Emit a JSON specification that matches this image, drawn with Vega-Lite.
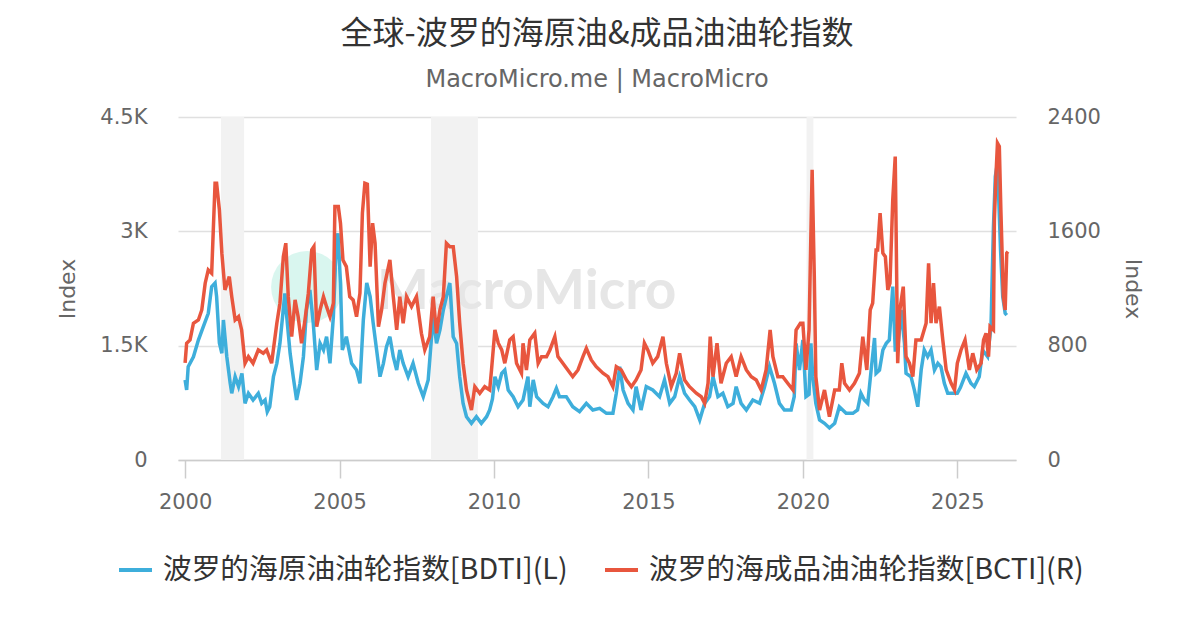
{
  "$schema": "https://vega.github.io/schema/vega-lite/v6.json",
  "width": 838,
  "height": 343,
  "autosize": "none",
  "padding": {"left": 178, "top": 117, "right": 185, "bottom": 170},
  "background": "white",
  "title": {
    "text": "全球-波罗的海原油&成品油油轮指数",
    "subtitle": "MacroMicro.me | MacroMicro",
    "font": "Noto Sans CJK SC",
    "fontSize": 32,
    "fontWeight": "normal",
    "color": "#333333",
    "subtitleFont": "DejaVu Sans",
    "subtitleFontSize": 24,
    "subtitleColor": "#666666",
    "subtitlePadding": 17,
    "offset": 13,
    "anchor": "middle"
  },
  "datasets": {
    "bands": [
      {"a": 2001.16, "b": 2001.91},
      {"a": 2007.96, "b": 2009.48},
      {"a": 2020.12, "b": 2020.34}
    ],
    "series": [
      {"t": 2000.0, "s": "BDTI", "v": 1050}, {"t": 2000.05, "s": "BDTI", "v": 920}, {"t": 2000.1, "s": "BDTI", "v": 1224},
      {"t": 2000.27, "s": "BDTI", "v": 1355}, {"t": 2000.43, "s": "BDTI", "v": 1574}, {"t": 2000.59, "s": "BDTI", "v": 1749},
      {"t": 2000.75, "s": "BDTI", "v": 1925}, {"t": 2000.86, "s": "BDTI", "v": 2274}, {"t": 2000.97, "s": "BDTI", "v": 2322},
      {"t": 2001.02, "s": "BDTI", "v": 2143}, {"t": 2001.11, "s": "BDTI", "v": 1535}, {"t": 2001.19, "s": "BDTI", "v": 1400},
      {"t": 2001.24, "s": "BDTI", "v": 1837}, {"t": 2001.35, "s": "BDTI", "v": 1355}, {"t": 2001.46, "s": "BDTI", "v": 1006},
      {"t": 2001.51, "s": "BDTI", "v": 875}, {"t": 2001.62, "s": "BDTI", "v": 1093}, {"t": 2001.73, "s": "BDTI", "v": 962},
      {"t": 2001.84, "s": "BDTI", "v": 1137}, {"t": 2001.94, "s": "BDTI", "v": 743}, {"t": 2002.05, "s": "BDTI", "v": 875},
      {"t": 2002.2, "s": "BDTI", "v": 787}, {"t": 2002.37, "s": "BDTI", "v": 875}, {"t": 2002.48, "s": "BDTI", "v": 743},
      {"t": 2002.59, "s": "BDTI", "v": 787}, {"t": 2002.66, "s": "BDTI", "v": 634}, {"t": 2002.74, "s": "BDTI", "v": 699},
      {"t": 2002.86, "s": "BDTI", "v": 1093}, {"t": 2002.97, "s": "BDTI", "v": 1268}, {"t": 2003.07, "s": "BDTI", "v": 1530},
      {"t": 2003.23, "s": "BDTI", "v": 2186}, {"t": 2003.29, "s": "BDTI", "v": 1880}, {"t": 2003.4, "s": "BDTI", "v": 1400},
      {"t": 2003.5, "s": "BDTI", "v": 1093}, {"t": 2003.61, "s": "BDTI", "v": 787}, {"t": 2003.72, "s": "BDTI", "v": 1006},
      {"t": 2003.83, "s": "BDTI", "v": 1355}, {"t": 2003.93, "s": "BDTI", "v": 1968}, {"t": 2004.04, "s": "BDTI", "v": 2230},
      {"t": 2004.15, "s": "BDTI", "v": 1793}, {"t": 2004.26, "s": "BDTI", "v": 1180}, {"t": 2004.37, "s": "BDTI", "v": 1530},
      {"t": 2004.48, "s": "BDTI", "v": 1443}, {"t": 2004.58, "s": "BDTI", "v": 1618}, {"t": 2004.69, "s": "BDTI", "v": 1268},
      {"t": 2004.8, "s": "BDTI", "v": 1880}, {"t": 2004.9, "s": "BDTI", "v": 2886}, {"t": 2004.95, "s": "BDTI", "v": 2974},
      {"t": 2005.03, "s": "BDTI", "v": 2322}, {"t": 2005.09, "s": "BDTI", "v": 1443}, {"t": 2005.22, "s": "BDTI", "v": 1618},
      {"t": 2005.39, "s": "BDTI", "v": 1268}, {"t": 2005.55, "s": "BDTI", "v": 1180}, {"t": 2005.66, "s": "BDTI", "v": 1006},
      {"t": 2005.77, "s": "BDTI", "v": 1837}, {"t": 2005.88, "s": "BDTI", "v": 2322}, {"t": 2005.99, "s": "BDTI", "v": 2143},
      {"t": 2006.09, "s": "BDTI", "v": 1793}, {"t": 2006.2, "s": "BDTI", "v": 1443}, {"t": 2006.31, "s": "BDTI", "v": 1093},
      {"t": 2006.42, "s": "BDTI", "v": 1268}, {"t": 2006.52, "s": "BDTI", "v": 1487}, {"t": 2006.63, "s": "BDTI", "v": 1618},
      {"t": 2006.74, "s": "BDTI", "v": 1355}, {"t": 2006.85, "s": "BDTI", "v": 1180}, {"t": 2006.95, "s": "BDTI", "v": 1443},
      {"t": 2007.06, "s": "BDTI", "v": 1268}, {"t": 2007.22, "s": "BDTI", "v": 1093}, {"t": 2007.38, "s": "BDTI", "v": 1268},
      {"t": 2007.55, "s": "BDTI", "v": 1006}, {"t": 2007.71, "s": "BDTI", "v": 831}, {"t": 2007.87, "s": "BDTI", "v": 1050},
      {"t": 2008.03, "s": "BDTI", "v": 1880}, {"t": 2008.14, "s": "BDTI", "v": 1530}, {"t": 2008.25, "s": "BDTI", "v": 1706},
      {"t": 2008.36, "s": "BDTI", "v": 1968}, {"t": 2008.46, "s": "BDTI", "v": 2143}, {"t": 2008.57, "s": "BDTI", "v": 2322},
      {"t": 2008.68, "s": "BDTI", "v": 1618}, {"t": 2008.79, "s": "BDTI", "v": 1530}, {"t": 2008.89, "s": "BDTI", "v": 1093},
      {"t": 2009.0, "s": "BDTI", "v": 743}, {"t": 2009.11, "s": "BDTI", "v": 568}, {"t": 2009.27, "s": "BDTI", "v": 481},
      {"t": 2009.43, "s": "BDTI", "v": 568}, {"t": 2009.59, "s": "BDTI", "v": 481}, {"t": 2009.76, "s": "BDTI", "v": 568},
      {"t": 2009.86, "s": "BDTI", "v": 656}, {"t": 2009.95, "s": "BDTI", "v": 800}, {"t": 2010.03, "s": "BDTI", "v": 1093},
      {"t": 2010.14, "s": "BDTI", "v": 962}, {"t": 2010.25, "s": "BDTI", "v": 1137}, {"t": 2010.35, "s": "BDTI", "v": 1180},
      {"t": 2010.46, "s": "BDTI", "v": 918}, {"t": 2010.62, "s": "BDTI", "v": 831}, {"t": 2010.78, "s": "BDTI", "v": 699},
      {"t": 2010.94, "s": "BDTI", "v": 787}, {"t": 2011.1, "s": "BDTI", "v": 1093}, {"t": 2011.16, "s": "BDTI", "v": 699},
      {"t": 2011.27, "s": "BDTI", "v": 1050}, {"t": 2011.38, "s": "BDTI", "v": 831}, {"t": 2011.59, "s": "BDTI", "v": 743},
      {"t": 2011.75, "s": "BDTI", "v": 699}, {"t": 2011.91, "s": "BDTI", "v": 831}, {"t": 2012.02, "s": "BDTI", "v": 940},
      {"t": 2012.12, "s": "BDTI", "v": 831}, {"t": 2012.34, "s": "BDTI", "v": 831}, {"t": 2012.55, "s": "BDTI", "v": 699},
      {"t": 2012.77, "s": "BDTI", "v": 634}, {"t": 2012.99, "s": "BDTI", "v": 743}, {"t": 2013.2, "s": "BDTI", "v": 656},
      {"t": 2013.42, "s": "BDTI", "v": 678}, {"t": 2013.64, "s": "BDTI", "v": 612}, {"t": 2013.85, "s": "BDTI", "v": 612},
      {"t": 2013.96, "s": "BDTI", "v": 875}, {"t": 2014.07, "s": "BDTI", "v": 1224}, {"t": 2014.18, "s": "BDTI", "v": 918},
      {"t": 2014.34, "s": "BDTI", "v": 743}, {"t": 2014.5, "s": "BDTI", "v": 656}, {"t": 2014.6, "s": "BDTI", "v": 962},
      {"t": 2014.76, "s": "BDTI", "v": 656}, {"t": 2014.93, "s": "BDTI", "v": 962}, {"t": 2015.14, "s": "BDTI", "v": 918},
      {"t": 2015.36, "s": "BDTI", "v": 831}, {"t": 2015.52, "s": "BDTI", "v": 1050}, {"t": 2015.69, "s": "BDTI", "v": 743},
      {"t": 2015.85, "s": "BDTI", "v": 831}, {"t": 2016.01, "s": "BDTI", "v": 1093}, {"t": 2016.17, "s": "BDTI", "v": 875},
      {"t": 2016.33, "s": "BDTI", "v": 787}, {"t": 2016.5, "s": "BDTI", "v": 699}, {"t": 2016.66, "s": "BDTI", "v": 525},
      {"t": 2016.82, "s": "BDTI", "v": 743}, {"t": 2016.98, "s": "BDTI", "v": 831}, {"t": 2017.09, "s": "BDTI", "v": 1093},
      {"t": 2017.25, "s": "BDTI", "v": 831}, {"t": 2017.41, "s": "BDTI", "v": 875}, {"t": 2017.57, "s": "BDTI", "v": 699},
      {"t": 2017.74, "s": "BDTI", "v": 743}, {"t": 2017.84, "s": "BDTI", "v": 962}, {"t": 2018.0, "s": "BDTI", "v": 743},
      {"t": 2018.17, "s": "BDTI", "v": 656}, {"t": 2018.38, "s": "BDTI", "v": 787}, {"t": 2018.6, "s": "BDTI", "v": 743},
      {"t": 2018.76, "s": "BDTI", "v": 962}, {"t": 2018.92, "s": "BDTI", "v": 1224}, {"t": 2019.08, "s": "BDTI", "v": 1006},
      {"t": 2019.24, "s": "BDTI", "v": 743}, {"t": 2019.4, "s": "BDTI", "v": 656}, {"t": 2019.62, "s": "BDTI", "v": 656},
      {"t": 2019.72, "s": "BDTI", "v": 831}, {"t": 2019.78, "s": "BDTI", "v": 1530}, {"t": 2019.89, "s": "BDTI", "v": 1180},
      {"t": 2020.0, "s": "BDTI", "v": 1574}, {"t": 2020.1, "s": "BDTI", "v": 831}, {"t": 2020.2, "s": "BDTI", "v": 860},
      {"t": 2020.26, "s": "BDTI", "v": 1530}, {"t": 2020.32, "s": "BDTI", "v": 1093}, {"t": 2020.42, "s": "BDTI", "v": 743},
      {"t": 2020.54, "s": "BDTI", "v": 525}, {"t": 2020.7, "s": "BDTI", "v": 481}, {"t": 2020.86, "s": "BDTI", "v": 420},
      {"t": 2021.03, "s": "BDTI", "v": 481}, {"t": 2021.18, "s": "BDTI", "v": 699}, {"t": 2021.29, "s": "BDTI", "v": 656},
      {"t": 2021.4, "s": "BDTI", "v": 612}, {"t": 2021.62, "s": "BDTI", "v": 612}, {"t": 2021.77, "s": "BDTI", "v": 656},
      {"t": 2021.88, "s": "BDTI", "v": 875}, {"t": 2021.99, "s": "BDTI", "v": 787}, {"t": 2022.1, "s": "BDTI", "v": 743},
      {"t": 2022.21, "s": "BDTI", "v": 1180}, {"t": 2022.32, "s": "BDTI", "v": 1600}, {"t": 2022.37, "s": "BDTI", "v": 1137},
      {"t": 2022.48, "s": "BDTI", "v": 1180}, {"t": 2022.59, "s": "BDTI", "v": 1443}, {"t": 2022.7, "s": "BDTI", "v": 1530},
      {"t": 2022.8, "s": "BDTI", "v": 1574}, {"t": 2022.86, "s": "BDTI", "v": 1968}, {"t": 2022.91, "s": "BDTI", "v": 2274},
      {"t": 2022.99, "s": "BDTI", "v": 1443}, {"t": 2023.07, "s": "BDTI", "v": 1443}, {"t": 2023.18, "s": "BDTI", "v": 1968},
      {"t": 2023.29, "s": "BDTI", "v": 1530}, {"t": 2023.34, "s": "BDTI", "v": 1137}, {"t": 2023.5, "s": "BDTI", "v": 1093},
      {"t": 2023.61, "s": "BDTI", "v": 918}, {"t": 2023.72, "s": "BDTI", "v": 699}, {"t": 2023.83, "s": "BDTI", "v": 1180},
      {"t": 2023.93, "s": "BDTI", "v": 1443}, {"t": 2024.04, "s": "BDTI", "v": 1355}, {"t": 2024.15, "s": "BDTI", "v": 1443},
      {"t": 2024.26, "s": "BDTI", "v": 1180}, {"t": 2024.37, "s": "BDTI", "v": 1268}, {"t": 2024.47, "s": "BDTI", "v": 1224},
      {"t": 2024.58, "s": "BDTI", "v": 1006}, {"t": 2024.69, "s": "BDTI", "v": 875}, {"t": 2024.85, "s": "BDTI", "v": 875},
      {"t": 2025.0, "s": "BDTI", "v": 875}, {"t": 2025.1, "s": "BDTI", "v": 950}, {"t": 2025.28, "s": "BDTI", "v": 1137},
      {"t": 2025.44, "s": "BDTI", "v": 1006}, {"t": 2025.55, "s": "BDTI", "v": 962}, {"t": 2025.71, "s": "BDTI", "v": 1093},
      {"t": 2025.82, "s": "BDTI", "v": 1443}, {"t": 2025.98, "s": "BDTI", "v": 1355}, {"t": 2026.09, "s": "BDTI", "v": 1749},
      {"t": 2026.17, "s": "BDTI", "v": 3061}, {"t": 2026.23, "s": "BDTI", "v": 3717}, {"t": 2026.3, "s": "BDTI", "v": 3900},
      {"t": 2026.4, "s": "BDTI", "v": 2755}, {"t": 2026.47, "s": "BDTI", "v": 2143}, {"t": 2026.55, "s": "BDTI", "v": 1925},
      {"t": 2026.6, "s": "BDTI", "v": 1900},

      {"t": 2000.0, "s": "BCTI", "v": 679}, {"t": 2000.05, "s": "BCTI", "v": 817}, {"t": 2000.16, "s": "BCTI", "v": 840},
      {"t": 2000.27, "s": "BCTI", "v": 957}, {"t": 2000.43, "s": "BCTI", "v": 980}, {"t": 2000.54, "s": "BCTI", "v": 1050},
      {"t": 2000.65, "s": "BCTI", "v": 1237}, {"t": 2000.75, "s": "BCTI", "v": 1330}, {"t": 2000.86, "s": "BCTI", "v": 1307},
      {"t": 2000.97, "s": "BCTI", "v": 1937}, {"t": 2001.02, "s": "BCTI", "v": 1937}, {"t": 2001.11, "s": "BCTI", "v": 1750},
      {"t": 2001.19, "s": "BCTI", "v": 1447}, {"t": 2001.29, "s": "BCTI", "v": 1190}, {"t": 2001.43, "s": "BCTI", "v": 1283},
      {"t": 2001.51, "s": "BCTI", "v": 1143}, {"t": 2001.62, "s": "BCTI", "v": 980}, {"t": 2001.73, "s": "BCTI", "v": 1003},
      {"t": 2001.83, "s": "BCTI", "v": 910}, {"t": 2001.94, "s": "BCTI", "v": 677}, {"t": 2002.05, "s": "BCTI", "v": 723},
      {"t": 2002.2, "s": "BCTI", "v": 677}, {"t": 2002.37, "s": "BCTI", "v": 770}, {"t": 2002.53, "s": "BCTI", "v": 747},
      {"t": 2002.64, "s": "BCTI", "v": 770}, {"t": 2002.8, "s": "BCTI", "v": 677}, {"t": 2002.97, "s": "BCTI", "v": 957},
      {"t": 2003.07, "s": "BCTI", "v": 1097}, {"t": 2003.18, "s": "BCTI", "v": 1423}, {"t": 2003.26, "s": "BCTI", "v": 1517},
      {"t": 2003.34, "s": "BCTI", "v": 1143}, {"t": 2003.45, "s": "BCTI", "v": 863}, {"t": 2003.56, "s": "BCTI", "v": 1120},
      {"t": 2003.66, "s": "BCTI", "v": 1003}, {"t": 2003.77, "s": "BCTI", "v": 817}, {"t": 2003.88, "s": "BCTI", "v": 980},
      {"t": 2003.99, "s": "BCTI", "v": 1167}, {"t": 2004.1, "s": "BCTI", "v": 1470}, {"t": 2004.17, "s": "BCTI", "v": 1493},
      {"t": 2004.26, "s": "BCTI", "v": 933}, {"t": 2004.37, "s": "BCTI", "v": 1050}, {"t": 2004.48, "s": "BCTI", "v": 1143},
      {"t": 2004.58, "s": "BCTI", "v": 1073}, {"t": 2004.69, "s": "BCTI", "v": 1003}, {"t": 2004.8, "s": "BCTI", "v": 1097},
      {"t": 2004.85, "s": "BCTI", "v": 1773}, {"t": 2004.96, "s": "BCTI", "v": 1773}, {"t": 2005.03, "s": "BCTI", "v": 1657},
      {"t": 2005.11, "s": "BCTI", "v": 1400}, {"t": 2005.22, "s": "BCTI", "v": 1353}, {"t": 2005.33, "s": "BCTI", "v": 1143},
      {"t": 2005.44, "s": "BCTI", "v": 1120}, {"t": 2005.55, "s": "BCTI", "v": 1003}, {"t": 2005.66, "s": "BCTI", "v": 1167},
      {"t": 2005.74, "s": "BCTI", "v": 1727}, {"t": 2005.82, "s": "BCTI", "v": 1937}, {"t": 2005.9, "s": "BCTI", "v": 1930},
      {"t": 2005.99, "s": "BCTI", "v": 1353}, {"t": 2006.07, "s": "BCTI", "v": 1657}, {"t": 2006.15, "s": "BCTI", "v": 1517},
      {"t": 2006.26, "s": "BCTI", "v": 933}, {"t": 2006.36, "s": "BCTI", "v": 1050}, {"t": 2006.47, "s": "BCTI", "v": 1237},
      {"t": 2006.63, "s": "BCTI", "v": 1400}, {"t": 2006.74, "s": "BCTI", "v": 1143}, {"t": 2006.85, "s": "BCTI", "v": 910},
      {"t": 2006.95, "s": "BCTI", "v": 1143}, {"t": 2007.06, "s": "BCTI", "v": 957}, {"t": 2007.17, "s": "BCTI", "v": 1143},
      {"t": 2007.33, "s": "BCTI", "v": 1073}, {"t": 2007.49, "s": "BCTI", "v": 1143}, {"t": 2007.65, "s": "BCTI", "v": 887},
      {"t": 2007.76, "s": "BCTI", "v": 770}, {"t": 2007.92, "s": "BCTI", "v": 863}, {"t": 2008.03, "s": "BCTI", "v": 1143},
      {"t": 2008.14, "s": "BCTI", "v": 887}, {"t": 2008.25, "s": "BCTI", "v": 1050}, {"t": 2008.36, "s": "BCTI", "v": 1143},
      {"t": 2008.46, "s": "BCTI", "v": 1517}, {"t": 2008.57, "s": "BCTI", "v": 1493}, {"t": 2008.68, "s": "BCTI", "v": 1493},
      {"t": 2008.79, "s": "BCTI", "v": 1283}, {"t": 2008.89, "s": "BCTI", "v": 957}, {"t": 2009.0, "s": "BCTI", "v": 677},
      {"t": 2009.11, "s": "BCTI", "v": 490}, {"t": 2009.27, "s": "BCTI", "v": 350}, {"t": 2009.38, "s": "BCTI", "v": 513},
      {"t": 2009.54, "s": "BCTI", "v": 467}, {"t": 2009.7, "s": "BCTI", "v": 513}, {"t": 2009.86, "s": "BCTI", "v": 490},
      {"t": 2009.92, "s": "BCTI", "v": 630}, {"t": 2010.03, "s": "BCTI", "v": 910}, {"t": 2010.14, "s": "BCTI", "v": 817},
      {"t": 2010.25, "s": "BCTI", "v": 770}, {"t": 2010.35, "s": "BCTI", "v": 677}, {"t": 2010.51, "s": "BCTI", "v": 840},
      {"t": 2010.62, "s": "BCTI", "v": 863}, {"t": 2010.73, "s": "BCTI", "v": 677}, {"t": 2010.89, "s": "BCTI", "v": 607},
      {"t": 2010.94, "s": "BCTI", "v": 817}, {"t": 2011.05, "s": "BCTI", "v": 630}, {"t": 2011.16, "s": "BCTI", "v": 840},
      {"t": 2011.32, "s": "BCTI", "v": 887}, {"t": 2011.43, "s": "BCTI", "v": 677}, {"t": 2011.54, "s": "BCTI", "v": 723},
      {"t": 2011.7, "s": "BCTI", "v": 723}, {"t": 2011.81, "s": "BCTI", "v": 770}, {"t": 2011.97, "s": "BCTI", "v": 863},
      {"t": 2012.07, "s": "BCTI", "v": 723}, {"t": 2012.23, "s": "BCTI", "v": 677}, {"t": 2012.39, "s": "BCTI", "v": 630},
      {"t": 2012.55, "s": "BCTI", "v": 583}, {"t": 2012.72, "s": "BCTI", "v": 630}, {"t": 2012.88, "s": "BCTI", "v": 723},
      {"t": 2012.99, "s": "BCTI", "v": 782}, {"t": 2013.15, "s": "BCTI", "v": 700}, {"t": 2013.31, "s": "BCTI", "v": 653},
      {"t": 2013.53, "s": "BCTI", "v": 607}, {"t": 2013.69, "s": "BCTI", "v": 583}, {"t": 2013.85, "s": "BCTI", "v": 513},
      {"t": 2013.96, "s": "BCTI", "v": 653}, {"t": 2014.12, "s": "BCTI", "v": 630}, {"t": 2014.29, "s": "BCTI", "v": 560},
      {"t": 2014.45, "s": "BCTI", "v": 513}, {"t": 2014.6, "s": "BCTI", "v": 560}, {"t": 2014.76, "s": "BCTI", "v": 630},
      {"t": 2014.87, "s": "BCTI", "v": 817}, {"t": 2014.98, "s": "BCTI", "v": 770}, {"t": 2015.14, "s": "BCTI", "v": 677},
      {"t": 2015.3, "s": "BCTI", "v": 723}, {"t": 2015.47, "s": "BCTI", "v": 863}, {"t": 2015.58, "s": "BCTI", "v": 677},
      {"t": 2015.74, "s": "BCTI", "v": 513}, {"t": 2015.9, "s": "BCTI", "v": 607}, {"t": 2016.01, "s": "BCTI", "v": 747},
      {"t": 2016.17, "s": "BCTI", "v": 560}, {"t": 2016.33, "s": "BCTI", "v": 513}, {"t": 2016.55, "s": "BCTI", "v": 467},
      {"t": 2016.71, "s": "BCTI", "v": 443}, {"t": 2016.82, "s": "BCTI", "v": 397}, {"t": 2016.93, "s": "BCTI", "v": 537},
      {"t": 2017.0, "s": "BCTI", "v": 863}, {"t": 2017.09, "s": "BCTI", "v": 583}, {"t": 2017.22, "s": "BCTI", "v": 817},
      {"t": 2017.35, "s": "BCTI", "v": 537}, {"t": 2017.52, "s": "BCTI", "v": 677}, {"t": 2017.68, "s": "BCTI", "v": 723},
      {"t": 2017.84, "s": "BCTI", "v": 583}, {"t": 2018.0, "s": "BCTI", "v": 723}, {"t": 2018.17, "s": "BCTI", "v": 630},
      {"t": 2018.33, "s": "BCTI", "v": 583}, {"t": 2018.49, "s": "BCTI", "v": 560}, {"t": 2018.65, "s": "BCTI", "v": 490},
      {"t": 2018.81, "s": "BCTI", "v": 630}, {"t": 2018.94, "s": "BCTI", "v": 910}, {"t": 2019.03, "s": "BCTI", "v": 723},
      {"t": 2019.19, "s": "BCTI", "v": 583}, {"t": 2019.35, "s": "BCTI", "v": 583}, {"t": 2019.51, "s": "BCTI", "v": 537},
      {"t": 2019.68, "s": "BCTI", "v": 490}, {"t": 2019.78, "s": "BCTI", "v": 910}, {"t": 2019.92, "s": "BCTI", "v": 957},
      {"t": 2020.0, "s": "BCTI", "v": 957}, {"t": 2020.1, "s": "BCTI", "v": 630}, {"t": 2020.2, "s": "BCTI", "v": 910},
      {"t": 2020.3, "s": "BCTI", "v": 2030}, {"t": 2020.37, "s": "BCTI", "v": 1283}, {"t": 2020.42, "s": "BCTI", "v": 583},
      {"t": 2020.54, "s": "BCTI", "v": 350}, {"t": 2020.7, "s": "BCTI", "v": 490}, {"t": 2020.86, "s": "BCTI", "v": 303},
      {"t": 2021.03, "s": "BCTI", "v": 490}, {"t": 2021.18, "s": "BCTI", "v": 490}, {"t": 2021.26, "s": "BCTI", "v": 677},
      {"t": 2021.35, "s": "BCTI", "v": 537}, {"t": 2021.51, "s": "BCTI", "v": 490}, {"t": 2021.67, "s": "BCTI", "v": 537},
      {"t": 2021.83, "s": "BCTI", "v": 607}, {"t": 2021.94, "s": "BCTI", "v": 863}, {"t": 2022.07, "s": "BCTI", "v": 630},
      {"t": 2022.18, "s": "BCTI", "v": 1050}, {"t": 2022.26, "s": "BCTI", "v": 1097}, {"t": 2022.37, "s": "BCTI", "v": 1470},
      {"t": 2022.42, "s": "BCTI", "v": 1470}, {"t": 2022.5, "s": "BCTI", "v": 1727}, {"t": 2022.59, "s": "BCTI", "v": 1447},
      {"t": 2022.67, "s": "BCTI", "v": 1423}, {"t": 2022.75, "s": "BCTI", "v": 1190}, {"t": 2022.82, "s": "BCTI", "v": 1237},
      {"t": 2022.91, "s": "BCTI", "v": 1820}, {"t": 2022.99, "s": "BCTI", "v": 2123}, {"t": 2023.07, "s": "BCTI", "v": 677},
      {"t": 2023.14, "s": "BCTI", "v": 1050}, {"t": 2023.25, "s": "BCTI", "v": 1213}, {"t": 2023.34, "s": "BCTI", "v": 723},
      {"t": 2023.45, "s": "BCTI", "v": 677}, {"t": 2023.56, "s": "BCTI", "v": 583}, {"t": 2023.66, "s": "BCTI", "v": 840},
      {"t": 2023.83, "s": "BCTI", "v": 840}, {"t": 2023.99, "s": "BCTI", "v": 957}, {"t": 2024.07, "s": "BCTI", "v": 1377},
      {"t": 2024.15, "s": "BCTI", "v": 957}, {"t": 2024.23, "s": "BCTI", "v": 1237}, {"t": 2024.31, "s": "BCTI", "v": 957},
      {"t": 2024.42, "s": "BCTI", "v": 1073}, {"t": 2024.53, "s": "BCTI", "v": 840}, {"t": 2024.64, "s": "BCTI", "v": 630},
      {"t": 2024.8, "s": "BCTI", "v": 537}, {"t": 2024.91, "s": "BCTI", "v": 490}, {"t": 2025.0, "s": "BCTI", "v": 677},
      {"t": 2025.12, "s": "BCTI", "v": 770}, {"t": 2025.25, "s": "BCTI", "v": 840}, {"t": 2025.39, "s": "BCTI", "v": 630},
      {"t": 2025.5, "s": "BCTI", "v": 747}, {"t": 2025.63, "s": "BCTI", "v": 630}, {"t": 2025.77, "s": "BCTI", "v": 677},
      {"t": 2025.85, "s": "BCTI", "v": 840}, {"t": 2025.93, "s": "BCTI", "v": 887}, {"t": 2026.01, "s": "BCTI", "v": 723},
      {"t": 2026.06, "s": "BCTI", "v": 933}, {"t": 2026.17, "s": "BCTI", "v": 910}, {"t": 2026.2, "s": "BCTI", "v": 1680},
      {"t": 2026.25, "s": "BCTI", "v": 1983}, {"t": 2026.3, "s": "BCTI", "v": 2217}, {"t": 2026.36, "s": "BCTI", "v": 2193},
      {"t": 2026.41, "s": "BCTI", "v": 1750}, {"t": 2026.49, "s": "BCTI", "v": 1143}, {"t": 2026.55, "s": "BCTI", "v": 1050},
      {"t": 2026.6, "s": "BCTI", "v": 1447}, {"t": 2026.64, "s": "BCTI", "v": 1458}
    ]
  },
  "layer": [
    {
      "data": {"name": "bands"},
      "mark": {"type": "rect", "color": "#f2f2f2"},
      "encoding": {
        "x": {
          "field": "a",
          "type": "quantitative",
          "scale": {"domain": [1999.77, 2026.9], "nice": false, "zero": false},
          "axis": {
            "title": null,
            "values": [2000, 2005, 2010, 2015, 2020, 2025],
            "format": "d",
            "grid": false,
            "domain": true,
            "domainColor": "#cccccc",
            "domainWidth": 1.5,
            "ticks": true,
            "tickColor": "#cccccc",
            "tickWidth": 1.5,
            "tickSize": 18,
            "labelPadding": 13
          }
        },
        "x2": {"field": "b"}
      }
    },
    {
      "layer": [
        {
          "data": {"values": [{}]},
          "mark": {"type": "point", "filled": true, "shape": "circle", "color": "#d9f6ef", "opacity": 1, "size": 5184},
          "encoding": {
            "x": {"datum": 2003.95},
            "y": {"datum": 2270}
          }
        },
        {
          "data": {"values": [{}]},
          "mark": {"type": "text", "text": "MacroMicro", "font": "Lato", "fontSize": 55, "fontWeight": "bold", "color": "#e6e6e6", "align": "left", "baseline": "alphabetic"},
          "encoding": {
            "x": {"datum": 2006.21},
            "y": {"datum": 1981}
          }
        },
        {
          "data": {"name": "series"},
          "transform": [{"filter": "datum.s === 'BDTI'"}],
          "mark": {"type": "line", "strokeWidth": 3.5},
          "encoding": {
            "x": {"field": "t", "type": "quantitative", "scale": {"domain": [1999.77, 2026.9], "nice": false, "zero": false}},
            "y": {
              "field": "v",
              "type": "quantitative",
              "scale": {"domain": [0, 4500], "nice": false},
              "axis": {
                "orient": "left",
                "title": "Index",
                "values": [0, 1500, 3000, 4500],
                "labelExpr": "datum.value === 0 ? '0' : (datum.value / 1000) + 'K'",
                "grid": true,
                "domain": false,
                "ticks": false,
                "labelPadding": 31,
                "titlePadding": 20
              }
            },
            "color": {
              "field": "s",
              "type": "nominal",
              "scale": {"domain": ["BDTI", "BCTI"], "range": ["#3eaedb", "#e8563e"]},
              "legend": {
                "orient": "none",
                "legendX": -61,
                "legendY": 434,
                "direction": "horizontal",
                "title": null,
                "labelFont": "Noto Sans CJK SC",
                "labelFontSize": 28.7,
                "labelColor": "#333333",
                "labelLimit": 0,
                "labelOffset": 9,
                "columnPadding": 29,
                "symbolType": "stroke",
                "symbolStrokeWidth": 4,
                "symbolSize": 1089,
                "labelExpr": "datum.label === 'BDTI' ? '波罗的海原油油轮指数[BDTI](L)' : '波罗的海成品油油轮指数[BCTI](R)'"
              }
            }
          }
        }
      ]
    },
    {
      "data": {"name": "series"},
      "transform": [{"filter": "datum.s === 'BCTI'"}],
      "mark": {"type": "line", "strokeWidth": 3.5},
      "encoding": {
        "x": {"field": "t", "type": "quantitative", "scale": {"domain": [1999.77, 2026.9], "nice": false, "zero": false}},
        "y": {
          "field": "v",
          "type": "quantitative",
          "scale": {"domain": [0, 2400], "nice": false},
          "axis": {
            "orient": "right",
            "title": "Index",
            "values": [0, 800, 1600, 2400],
            "format": "d",
            "grid": false,
            "domain": false,
            "ticks": false,
            "labelPadding": 31,
            "titlePadding": 20
          }
        },
        "color": {"field": "s", "type": "nominal"}
      }
    }
  ],
  "resolve": {"scale": {"y": "independent"}},
  "config": {
    "view": {"stroke": null},
    "axis": {
      "labelFont": "DejaVu Sans",
      "labelFontSize": 21,
      "labelColor": "#666666",
      "titleFont": "DejaVu Sans",
      "titleFontSize": 22,
      "titleFontWeight": "normal",
      "titleColor": "#666666",
      "gridColor": "#e0e0e0",
      "gridWidth": 1.5
    }
  }
}
